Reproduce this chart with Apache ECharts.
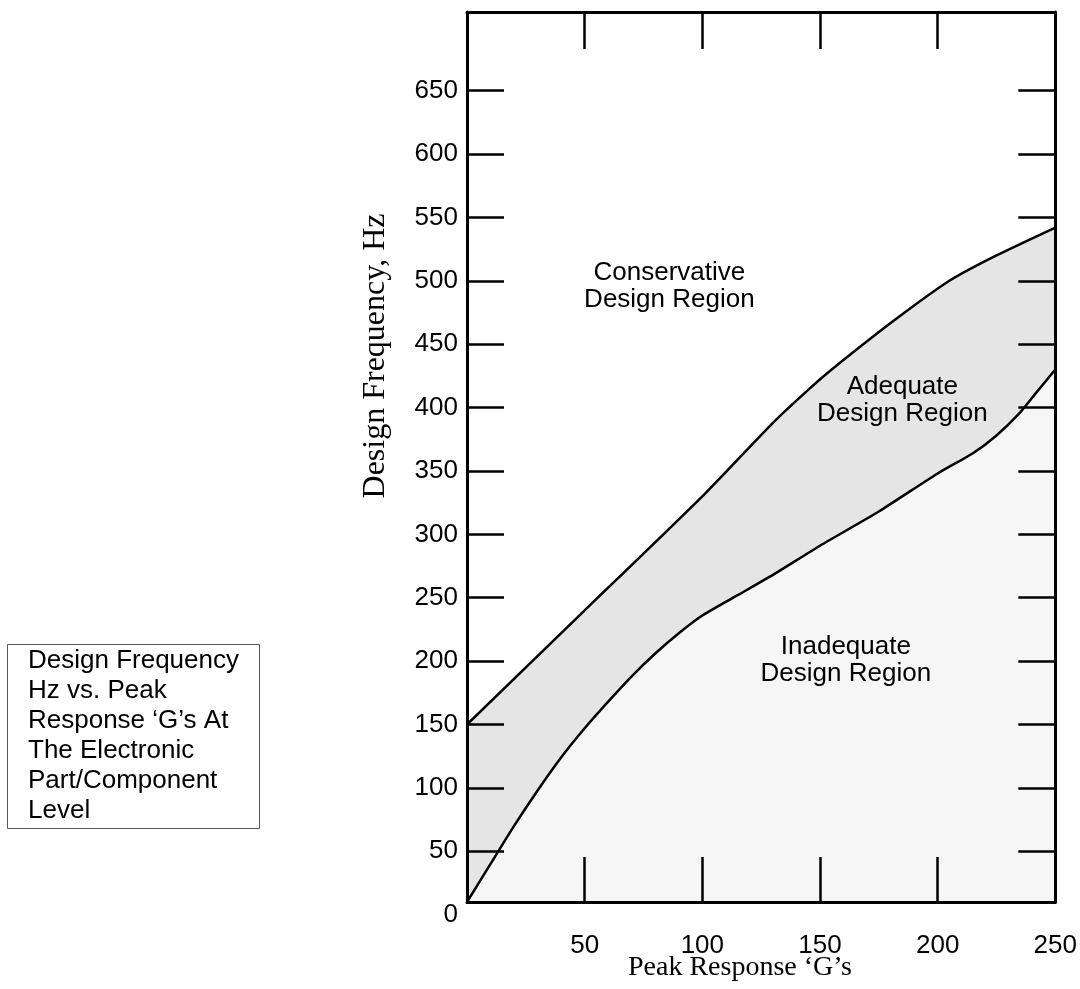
<!DOCTYPE html>
<html>
<head>
<meta charset="utf-8">
<script src="https://cdn.jsdelivr.net/npm/echarts@6/dist/echarts.min.js"></script>
<style>
html,body{margin:0;padding:0;background:#fff;}
#chart{width:1080px;height:989px;}
</style>
</head>
<body>
<div id="chart"></div>
<script>
// ---- data ----
var xTicks = [50, 100, 150, 200];
var xLabels = [50, 100, 150, 200, 250];
var yTicks = [50, 100, 150, 200, 250, 300, 350, 400, 450, 500, 550, 600, 650];
var upperBoundary = [[0,150],[50,240],[100,330],[130,388],[145,414],[155,430],[181,468],[205,500],[225,520],[250,542]];
var lowerBoundary = [[0,10],[10,40],[20,70],[30,98],[40,124],[50,147],[60,168],[70,188],[80,206],[90,222],[100,236],[115,252],[130,268],[150,291],[175,318],[200,348],[215,364],[225,378],[235,396],[242,412],[250,430]];
var regionLabels = [
  {text: 'Conservative\nDesign Region', at: [86, 496]},
  {text: 'Adequate\nDesign Region', at: [185, 406]},
  {text: 'Inadequate\nDesign Region', at: [161, 201]}
];
var noteLines = ['Design Frequency', 'Hz vs. Peak', 'Response \u2018G\u2019s At', 'The Electronic', 'Part/Component', 'Level'];
var xTitle = 'Peak Response \u2018G\u2019s';
var yTitle = 'Design Frequency, Hz';

var chart = echarts.init(document.getElementById('chart'), null, {renderer: 'canvas'});
var sans = 'Liberation Sans, Arial, Helvetica, sans-serif';
var serif = 'Liberation Serif, Times New Roman, serif';
var lineStyleAxis = {color: '#000', width: 3};
var tickStyle = {color: '#000', width: 2.5};

function xAxisCfg(pos, showLabels, tickLen) {
  return {
    type: 'value', position: pos, min: 0, max: 250, z: 10,
    axisLine: {show: true, onZero: false, lineStyle: lineStyleAxis},
    axisTick: {show: true, inside: true, length: tickLen, lineStyle: tickStyle, customValues: xTicks},
    axisLabel: {show: showLabels, customValues: xLabels, color: '#000', fontFamily: sans, fontSize: 26, margin: 31},
    splitLine: {show: false}
  };
}
function yAxisCfg(pos, showLabels) {
  return {
    type: 'value', position: pos, min: 10, max: 712, z: 10,
    axisLine: {show: true, onZero: false, lineStyle: lineStyleAxis},
    axisTick: {show: true, inside: true, length: 37, lineStyle: tickStyle, customValues: yTicks},
    axisLabel: {show: showLabels, customValues: yTicks, color: '#000', fontFamily: sans, fontSize: 26, margin: 9},
    splitLine: {show: false}
  };
}

var option = {
  backgroundColor: '#fff',
  animation: false,
  grid: {left: 467, right: 22, top: 12, bottom: 87, containLabel: false},
  xAxis: [xAxisCfg('bottom', true, 45), xAxisCfg('top', false, 37)],
  yAxis: [yAxisCfg('left', true), yAxisCfg('right', false)],
  series: [
    {
      type: 'line', data: upperBoundary, xAxisIndex: 0, yAxisIndex: 0,
      showSymbol: false, smooth: 0.2, z: 2,
      lineStyle: {color: '#000', width: 2.5},
      areaStyle: {color: '#e5e5e5', opacity: 1, origin: 'start'}
    },
    {
      type: 'line', data: lowerBoundary, xAxisIndex: 0, yAxisIndex: 0,
      showSymbol: false, smooth: 0.2, z: 3,
      lineStyle: {color: '#000', width: 2.5},
      areaStyle: {color: '#f6f6f6', opacity: 1, origin: 'start'}
    }
  ]
};
chart.setOption(option);

// annotations positioned from data coordinates
var graphics = [];
regionLabels.forEach(function (r) {
  var p = chart.convertToPixel({xAxisIndex: 0, yAxisIndex: 0}, r.at);
  graphics.push({
    type: 'text', x: p[0], y: p[1], z: 20,
    style: {text: r.text, fill: '#000', font: '26px ' + sans, align: 'center', verticalAlign: 'middle', lineHeight: 27}
  });
});
var zeroY = chart.convertToPixel({yAxisIndex: 0}, 0);
var zeroX = chart.convertToPixel({xAxisIndex: 0}, 0);
graphics.push({
  type: 'text', x: zeroX - 9, y: zeroY, z: 20,
  style: {text: '0', fill: '#000', font: '26px ' + sans, align: 'right', verticalAlign: 'middle'}
});
graphics.push({
  type: 'text', x: 376, y: 356, rotation: Math.PI / 2, z: 20,
  style: {text: yTitle, fill: '#000', font: '32px ' + serif, align: 'center', verticalAlign: 'middle'}
});
graphics.push({
  type: 'text', x: 740, y: 968, z: 20,
  style: {text: xTitle, fill: '#000', font: '28px ' + serif, align: 'center', verticalAlign: 'middle'}
});
graphics.push({
  type: 'rect', z: 20,
  shape: {x: 7.5, y: 644.5, width: 252, height: 184},
  style: {fill: '#fff', stroke: '#555', lineWidth: 1}
});
graphics.push({
  type: 'text', x: 28, y: 646, z: 21,
  style: {text: noteLines.join('\n'), fill: '#000', font: '26px ' + sans, align: 'left', verticalAlign: 'top', lineHeight: 30}
});
chart.setOption({graphic: graphics});
</script>
</body>
</html>
